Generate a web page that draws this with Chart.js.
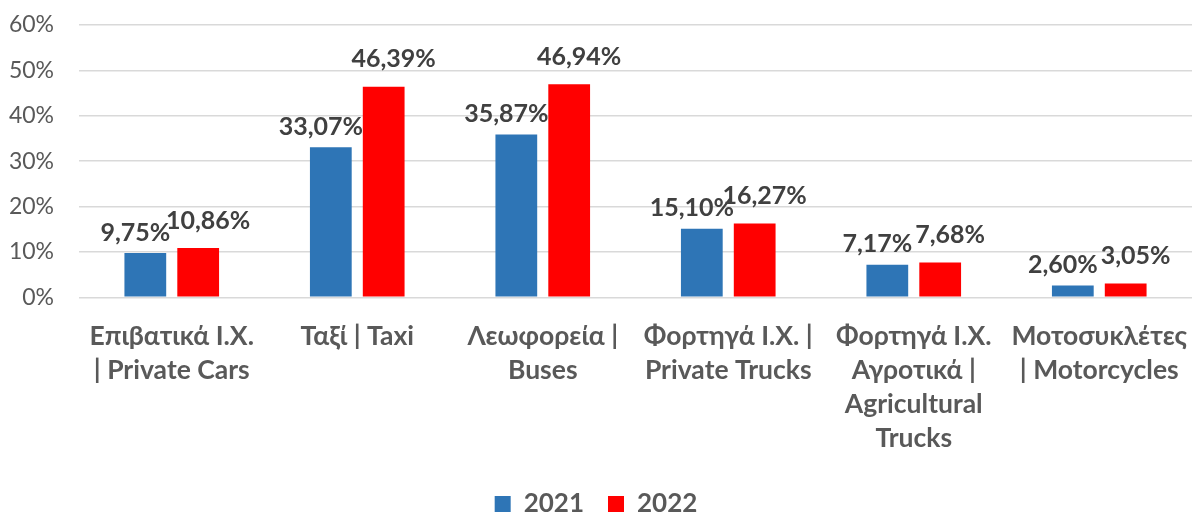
<!DOCTYPE html>
<html>
<head>
<meta charset="utf-8">
<script src="https://cdn.jsdelivr.net/npm/chart.js@4"></script>
<style>
  html, body { margin: 0; padding: 0; background: #fff; }
  #wrap { width: 1192px; height: 514px; }
</style>
</head>
<body>
<div id="wrap"><canvas id="myChart" width="1192" height="514"></canvas></div>
<script>
// categorias (multilinea)
var categories = [
  ['Επιβατικά Ι.Χ.', '| Private Cars'],
  'Ταξί | Taxi',
  ['Λεωφορεία |', 'Buses'],
  ['Φορτηγά Ι.Χ. |', 'Private Trucks'],
  ['Φορτηγά Ι.Χ.', 'Αγροτικά |', 'Agricultural', 'Trucks'],
  ['Μοτοσυκλέτες', '| Motorcycles']
];
var values2021 = [9.75, 33.07, 35.87, 15.10, 7.17, 2.60];
var values2022 = [10.86, 46.39, 46.94, 16.27, 7.68, 3.05];
var yTicks = [0, 10, 20, 30, 40, 50, 60];

var font = 'Lato, "Open Sans", sans-serif';

// etiquetas encima de las barras (desplazamiento por serie, como en Excel)
var barLabels = {
  id: 'barLabels',
  afterDatasetsDraw: function(chart) {
    var ctx = chart.ctx;
    ctx.save();
    ctx.font = 'bold 25px ' + font;
    ctx.fillStyle = '#404040';
    ctx.textAlign = 'center';
    ctx.textBaseline = 'bottom';
    chart.data.datasets.forEach(function(ds, i) {
      var dx = i === 0 ? -10 : 10;
      var dy = i === 0 ? 8 : 15;
      chart.getDatasetMeta(i).data.forEach(function(bar, j) {
        var txt = ds.data[j].toFixed(2).replace('.', ',') + '%';
        ctx.fillText(txt, bar.x + dx, bar.y - dy);
      });
    });
    ctx.restore();
  }
};

var ctx = document.getElementById('myChart').getContext('2d');
var myChart = new Chart(ctx, {
  type: 'bar',
  data: {
    labels: categories,
    datasets: [{
      label: '2021',
      data: values2021,
      backgroundColor: '#2E75B6',
      borderWidth: 0
    }, {
      label: '2022',
      data: values2022,
      backgroundColor: '#FF0000',
      borderWidth: 0
    }]
  },
  options: {
    responsive: false,
    animation: false,
    categoryPercentage: 0.57,
    barPercentage: 0.79,
    layout: { padding: { top: 0, right: 0, left: 0, bottom: -13 } },
    plugins: {
      legend: {
        position: 'bottom',
        labels: {
          font: { family: font, size: 26, weight: 'bold' },
          color: '#595959',
          boxWidth: 16,
          boxHeight: 16,
          padding: 24
        }
      },
      tooltip: { enabled: false }
    },
    scales: {
      x: {
        afterFit: function(axis) {
          axis.paddingLeft = 0;
          axis.paddingRight = 0;
          axis.height -= 11;
        },
        grid: { display: false, drawTicks: false },
        border: { display: false },
        ticks: {
          font: { family: font, size: 26.5, weight: 'bold', lineHeight: 1.29 },
          color: '#595959',
          maxRotation: 0,
          autoSkip: false,
          padding: 22
        }
      },
      y: {
        min: 0,
        max: 60,
        afterBuildTicks: function(axis) {
          axis.ticks = yTicks.map(function(v) { return { value: v }; });
        },
        afterFit: function(axis) {
          axis.width = 79;
          axis.paddingTop = 25;
          axis.paddingBottom = 0;
        },
        grid: { color: '#d9d9d9', lineWidth: 1.5, drawTicks: false },
        border: { display: false },
        ticks: {
          font: { family: font, size: 23 },
          color: '#595959',
          padding: 25,
          callback: function(v) { return v + '%'; }
        }
      }
    }
  },
  plugins: [barLabels]
});
</script>
</body>
</html>
